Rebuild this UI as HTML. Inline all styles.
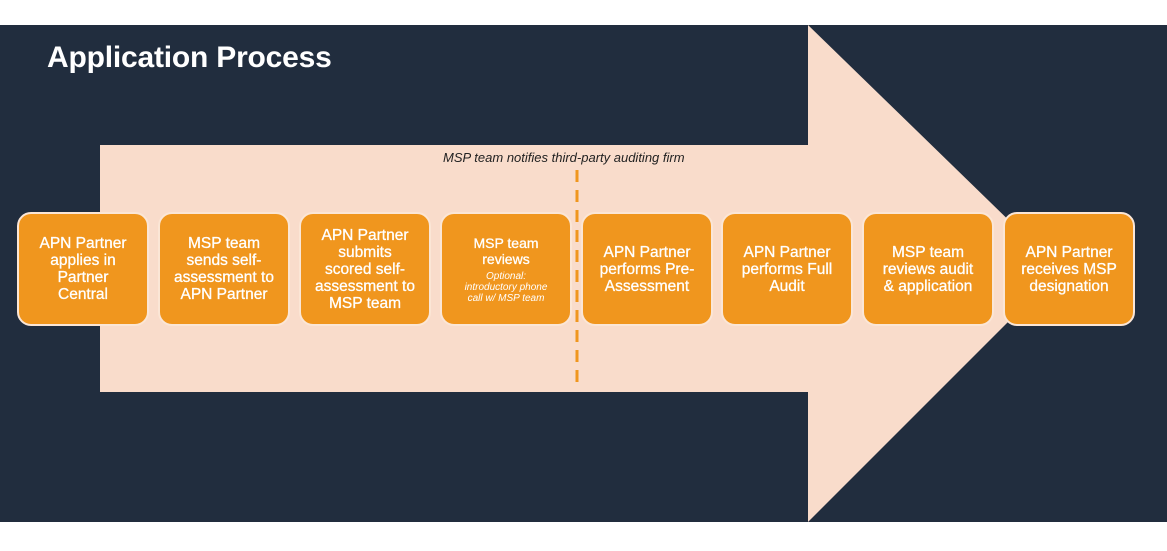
<!DOCTYPE html>
<html><head><style>
body{margin:0;width:1167px;height:551px;background:#fff;position:relative;overflow:hidden;font-family:"Liberation Sans",Arial,sans-serif}
.bg{position:absolute;left:0;top:25px;width:1167px;height:497px;background:#212d3e}
h1{position:absolute;left:47px;top:41px;margin:0;color:#fff;font-size:30px;font-weight:bold;letter-spacing:-0.2px}
.box{position:absolute;top:212px;width:128px;height:110px;background:#f0961e;border:2px solid #fbe6d6;border-radius:14px;color:#fff;font-size:15.5px;line-height:17px;text-align:center;display:flex;align-items:center;justify-content:center;flex-direction:column;-webkit-text-stroke:0.3px #fff}
.note{position:absolute;left:443px;top:150px;font-size:13px;font-style:italic;color:#222}
</style></head><body>
<div class="bg"></div>
<svg style="position:absolute;left:0;top:0" width="1167" height="551">
<polygon points="100,145 808,145 808,25 1060,270 808,522 808,392 100,392" fill="#f9dccb"/>
<line x1="577" y1="170" x2="577" y2="382" stroke="#f0961e" stroke-width="3" stroke-dasharray="12,8"/>
</svg>
<h1>Application Process</h1>
<div class="note">MSP team notifies third-party auditing firm</div>
<div class="box" style="left:17px">APN Partner<br>applies in<br>Partner<br>Central</div>
<div class="box" style="left:158px">MSP team<br>sends self-<br>assessment to<br>APN Partner</div>
<div class="box" style="left:299px">APN Partner<br>submits<br>scored self-<br>assessment to<br>MSP team</div>
<div class="box" style="left:440px"><div style="font-size:14px;line-height:16px">MSP team<br>reviews</div><div style="font-size:10px;line-height:11px;font-style:italic;margin-top:4px;-webkit-text-stroke:0">Optional:<br>introductory phone<br>call w/ MSP team</div></div>
<div class="box" style="left:581px">APN Partner<br>performs Pre-<br>Assessment</div>
<div class="box" style="left:721px">APN Partner<br>performs Full<br>Audit</div>
<div class="box" style="left:862px">MSP team<br>reviews audit<br>&amp; application</div>
<div class="box" style="left:1003px">APN Partner<br>receives MSP<br>designation</div>
</body></html>
